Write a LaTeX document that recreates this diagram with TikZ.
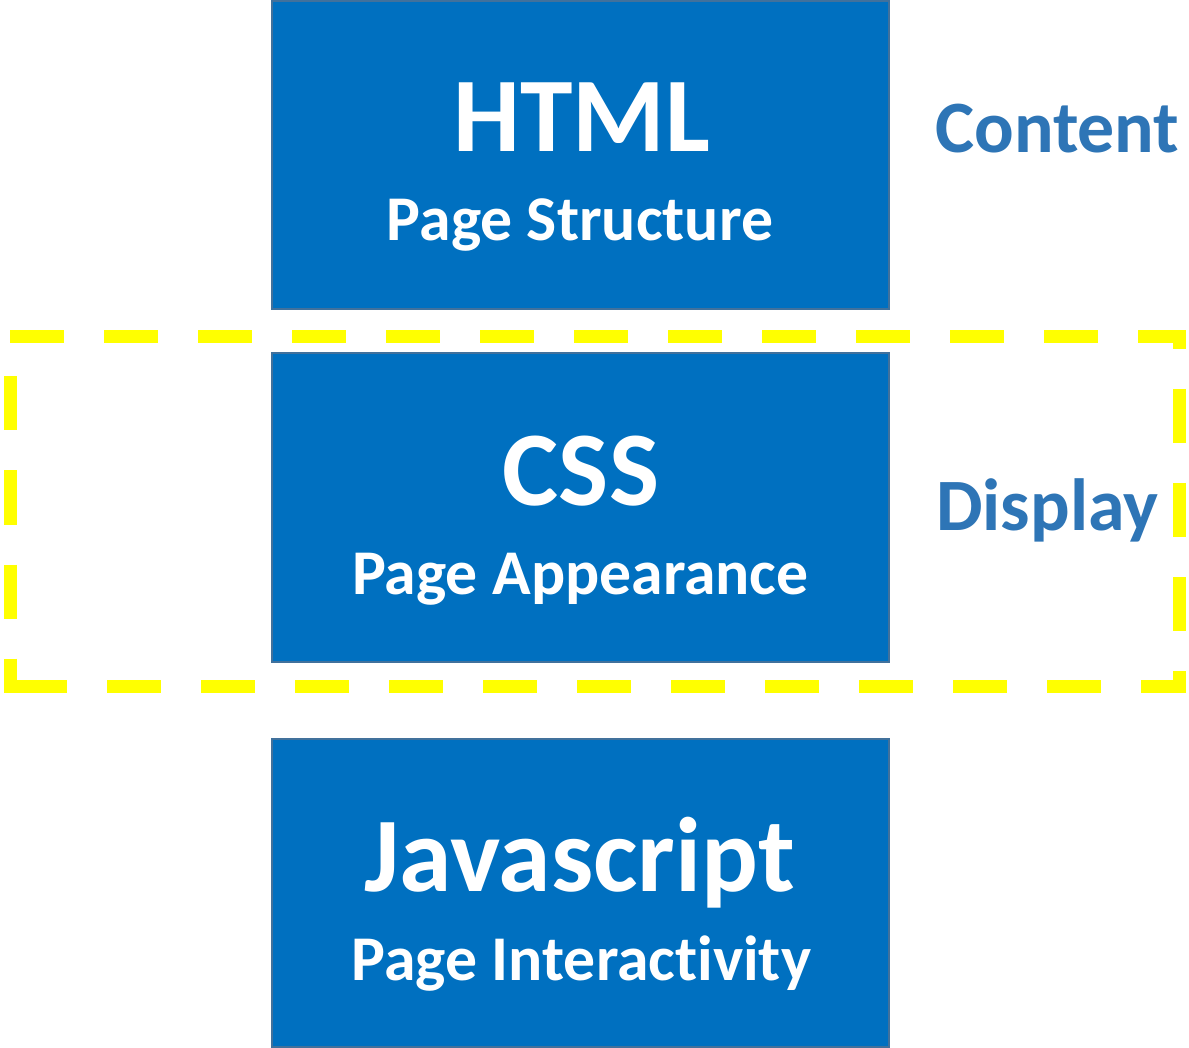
\documentclass[tikz,border=0pt]{standalone}
\usepackage{fontspec}
\setmainfont[Ligatures=NoCommon]{Carlito}
\definecolor{boxblue}{HTML}{0070C0}
\definecolor{boxedge}{HTML}{41719C}
\definecolor{lblblue}{HTML}{2E75B6}
\definecolor{dashyel}{HTML}{FFFF00}
\begin{document}
\begin{tikzpicture}[x=0.75pt,y=-0.75pt,
  techbox/.style={draw=boxedge,fill=boxblue,line width=1.5pt,inner sep=0pt,outer sep=0pt,
    minimum width=462.75pt,minimum height=231pt},
  bigtxt/.style={anchor=base,text=white,font=\bfseries\fontsize{79.5}{82}\selectfont,inner sep=0pt},
  subtxt/.style={anchor=base,text=white,font=\bfseries\fontsize{47.8}{50}\selectfont,inner sep=0pt},
  sidetxt/.style={anchor=base west,text=lblblue,font=\bfseries\fontsize{55.4}{58}\selectfont,inner sep=0pt},
  yeldash/.style={draw=dashyel,line width=9.75pt,dash pattern=on 40.5pt off 30pt}]
\useasboundingbox (0,0) rectangle (1189,1048);
\fill[white] (0,0) rectangle (1189,1048);
% boxes
\node[techbox] (html) at (580.5,155) {};
\node[techbox] (css) at (580.5,507.5) {};
\node[techbox] (js) at (580.5,893) {};
% texts
\node[bigtxt] (htmlt) at (582,152) {HTML};
\node[subtxt] (htmls) at (580,241) {Page Structure};
\node[bigtxt] (csst) at (581,505) {CSS};
\node[subtxt] (csss) at (580.5,594) {Page Appearance};
\node[bigtxt] (jst) at (579.5,891) {Javascript};
\node[subtxt] (jss) at (581.5,980) {Page Interactivity};
\node[sidetxt] (content) at (935,153) {Content};
\node[sidetxt] (display) at (936,530) {Display};
% dashed frame
\coordinate (ftl) at (10,336.5);
\coordinate (ftr) at (1179.5,336.5);
\coordinate (fbr) at (1179.5,686);
\coordinate (fbl) at (10,686);
\coordinate (fblo) at (10,692.5);
\draw[yeldash,line join=miter] (ftl) -- (ftr) -- (fbr) -- (fbl);
\draw[yeldash,dash phase=40.5pt] (ftl) -- (fblo);
\end{tikzpicture}
\end{document}
